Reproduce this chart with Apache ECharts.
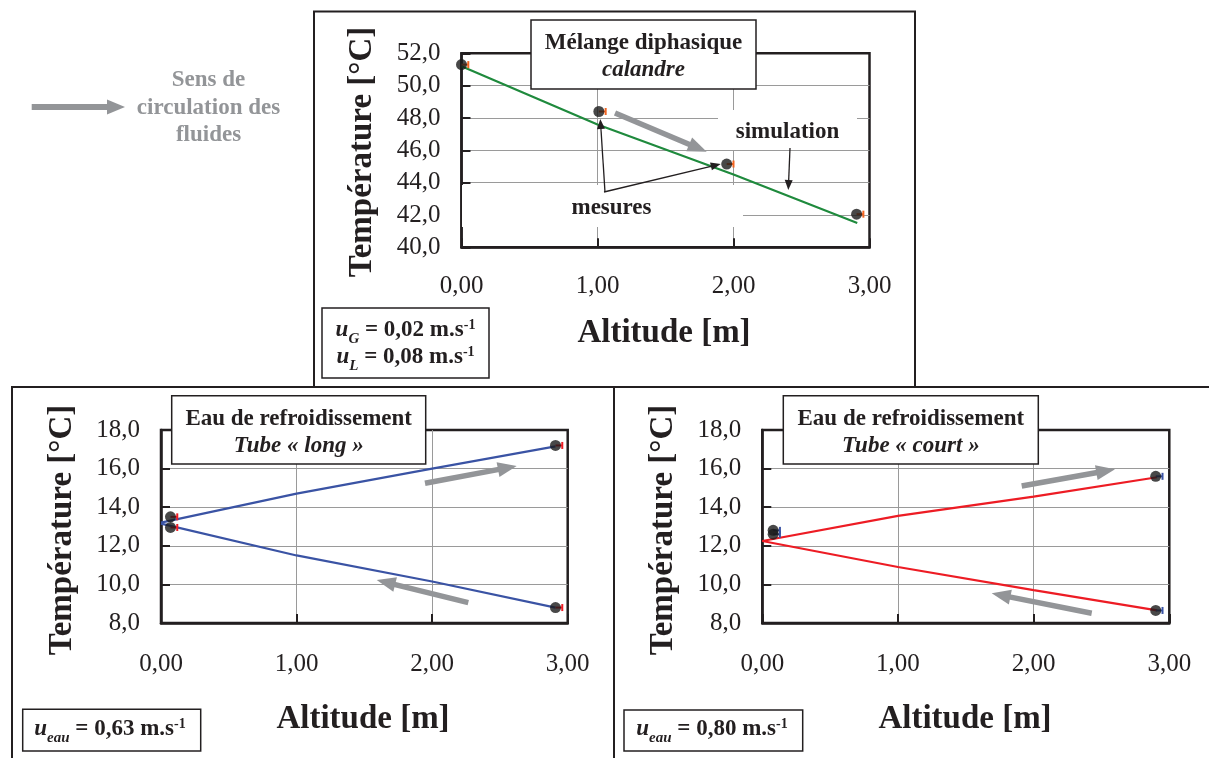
<!DOCTYPE html>
<html><head><meta charset="utf-8">
<script src="https://cdn.jsdelivr.net/npm/echarts@6/dist/echarts.min.js"></script>
<style>html,body{margin:0;padding:0;background:#fff}#c{width:1209px;height:758px}</style>
</head><body><div id="c"></div>
<script>
// ---------- DATA ----------
const xTickValues = [0, 1, 2, 3];
// Mélange diphasique (calandre)
const measX_top = [0.00, 1.01, 1.95, 2.905];
const meas_top = [51.3, 48.4, 45.15, 42.05];
const simX = [0, 1, 2, 2.91];
const sim_top = [51.2, 47.6, 44.5, 41.5];
// Eau de refroidissement, tube « long »
const measX_long = [0.07, 2.91];
const measUp_long = [13.5, 17.2];
const measDown_long = [12.95, 8.8];
const simUp_long = [13.2, 14.7, 16.0, 17.15];
const simDown_long = [13.15, 11.5, 10.15, 8.8];
// Eau de refroidissement, tube « court »
const measX_court = [0.08, 2.9];
const measUp_court = [12.8, 15.6];
const measDown_court = [12.6, 8.65];
const simUp_court = [12.25, 13.55, 14.55, 15.55];
const simDown_court = [12.25, 10.9, 9.7, 8.65];
const xErr = 0.05;

// ---------- STYLE ----------
const FONT = "'Liberation Serif','Times New Roman',serif";
const INK = '#231f20';
const GRAY = '#939598';
const zip = (xs, ys) => xs.map((x, i) => [x, ys[i]]);

function xAxisCfg(gi, margin) {
  return {
    type: 'value', gridIndex: gi, min: 0, max: 3, interval: 1,
    axisLine: {show: true, onZero: false, lineStyle: {color: INK, width: 2.5}},
    axisTick: {show: true, inside: true, length: 9, lineStyle: {color: INK, width: 2}},
    splitLine: {show: true, showMinLine: false, showMaxLine: false, lineStyle: {color: '#9a9a9a', width: 1}},
    axisLabel: {formatter: v => v.toFixed(2).replace('.', ','), fontFamily: FONT, fontSize: 25, color: INK, margin: margin}
  };
}
function yAxisCfg(gi, min, max) {
  return {
    type: 'value', gridIndex: gi, min: min, max: max, interval: 2,
    axisLine: {show: true, onZero: false, lineStyle: {color: INK, width: 2.5}},
    axisTick: {show: true, inside: true, length: 9, lineStyle: {color: INK, width: 2}},
    splitLine: {show: true, showMinLine: false, showMaxLine: false, lineStyle: {color: '#9a9a9a', width: 1}},
    axisLabel: {formatter: v => v.toFixed(1).replace('.', ','), fontFamily: FONT, fontSize: 25, color: INK, margin: 21}
  };
}
function errItem(color) {
  return function (params, api) {
    const x = api.value(0), y = api.value(1);
    const a = api.coord([x, y]), b = api.coord([x + xErr, y]);
    const h = 3.5, st = {stroke: color, lineWidth: 2};
    return {type: 'group', children: [
      {type: 'line', shape: {x1: a[0], y1: a[1], x2: b[0], y2: b[1]}, style: st},
      {type: 'line', shape: {x1: b[0], y1: b[1] - h, x2: b[0], y2: b[1] + h}, style: st}
    ]};
  };
}
function simSeries(gi, ys, color) {
  return {type: 'line', xAxisIndex: gi, yAxisIndex: gi, data: zip(simX, ys), showSymbol: false,
    lineStyle: {color: color, width: 2.2}, z: 4, silent: true};
}
function measSeries(gi, xs, ys) {
  return {type: 'scatter', xAxisIndex: gi, yAxisIndex: gi, data: zip(xs, ys), symbol: 'circle',
    symbolSize: 11, itemStyle: {color: '#1a1a1a'}, z: 6, silent: true};
}
function errSeries(gi, xs, ys, color) {
  return {type: 'custom', xAxisIndex: gi, yAxisIndex: gi, data: zip(xs, ys), renderItem: errItem(color), z: 5, silent: true};
}

// ---------- GRAPHIC HELPERS ----------
function arrow(x1, y1, x2, y2, color, w, hl, hw, z) {
  const ang = Math.atan2(y2 - y1, x2 - x1);
  const bx = x2 - hl * Math.cos(ang), by = y2 - hl * Math.sin(ang);
  const px = -Math.sin(ang) * hw / 2, py = Math.cos(ang) * hw / 2;
  return [
    {type: 'line', z: z, shape: {x1: x1, y1: y1, x2: bx + Math.cos(ang), y2: by + Math.sin(ang)}, style: {stroke: color, lineWidth: w}},
    {type: 'polygon', z: z, shape: {points: [[x2, y2], [bx + px, by + py], [bx - px, by - py]]}, style: {fill: color}}
  ];
}
function txt(x, y, s, opt) {
  opt = opt || {};
  return {type: 'text', x: x, y: y, rotation: opt.rot || 0, z: opt.z || 120,
    style: {text: s, fontFamily: FONT, fontSize: opt.size || 23, fontWeight: opt.weight || 'bold',
      fontStyle: opt.italic ? 'italic' : 'normal', fill: opt.color || INK, align: 'center', verticalAlign: 'middle'}};
}
function rect(x, y, w, h, stroke, z) {
  return {type: 'rect', z: z || 110, shape: {x: x, y: y, width: w, height: h},
    style: {fill: '#fff', stroke: stroke ? INK : null, lineWidth: stroke ? 1.5 : 0}};
}
function hline(x1, y1, x2, y2, w) {
  return {type: 'line', z: 130, shape: {x1: x1, y1: y1, x2: x2, y2: y2}, style: {stroke: INK, lineWidth: w || 2}};
}
const uRich = {
  u: {fontFamily: FONT, fontSize: 23, fontWeight: 'bold', fontStyle: 'italic', fill: INK, lineHeight: 27},
  s: {fontFamily: FONT, fontSize: 15, fontWeight: 'bold', fontStyle: 'italic', fill: INK, lineHeight: 27, padding: [18, 0, 0, 0]},
  t: {fontFamily: FONT, fontSize: 23, fontWeight: 'bold', fill: INK, lineHeight: 27},
  p: {fontFamily: FONT, fontSize: 14, fontWeight: 'bold', fill: INK, lineHeight: 27, padding: [0, 0, 10, 0]}
};
function richTxt(x, y, s) {
  return {type: 'text', x: x, y: y, z: 120, style: {text: s, rich: uRich, align: 'center', verticalAlign: 'middle'}};
}

const graphics = [].concat(
  // panel frames
  [{type: 'rect', z: 130, shape: {x: 314, y: 11.5, width: 601, height: 375.5}, style: {fill: null, stroke: INK, lineWidth: 2}}],
  [hline(11, 387, 1209, 387), hline(12, 387, 12, 758), hline(614, 387, 614, 758)],
  // legend of flow direction
  arrow(31.7, 107, 125, 107, GRAY, 6, 18, 15, 120),
  [txt(208.5, 80, 'Sens de', {color: GRAY}),
   txt(208.5, 108, 'circulation des', {color: GRAY}),
   txt(208.5, 135, 'fluides', {color: GRAY})],
  // top panel
  [rect(531, 20, 225, 69, true),
   txt(643.5, 43, 'Mélange diphasique'),
   txt(643.5, 70, 'calandre', {italic: true}),
   rect(462, 185, 281, 42, false, 100),
   rect(718, 110, 139, 40, false, 100),
   txt(611.5, 208, 'mesures'),
   txt(787.5, 132, 'simulation'),
   rect(322, 308, 167, 70, true),
   richTxt(405.5, 344, '{u|u}{s|G}{t| = 0,02 m.s}{p|-1}\n{u|u}{s|L}{t| = 0,08 m.s}{p|-1}'),
   txt(362, 152, 'Température [°C]', {size: 33, rot: Math.PI / 2}),
   txt(664, 333, 'Altitude [m]', {size: 33})],
  arrow(605, 192, 600.3, 119, INK, 1.3, 10, 8, 120),
  arrow(604, 192, 720.7, 164, INK, 1.3, 10, 8, 120),
  arrow(790, 148, 788.3, 190, INK, 1.3, 10, 8, 120),
  arrow(615, 113, 706.7, 151.7, GRAY, 5.5, 19, 15, 115),
  // bottom-left panel
  [rect(171.7, 395.7, 254, 68.3, true),
   txt(298.7, 419, 'Eau de refroidissement'),
   txt(298.7, 446, 'Tube « long »', {italic: true}),
   rect(22.7, 709.3, 178, 41.7, true),
   richTxt(110, 729, '{u|u}{s|eau}{t| = 0,63 m.s}{p|-1}'),
   txt(62, 530, 'Température [°C]', {size: 33, rot: Math.PI / 2}),
   txt(363, 719, 'Altitude [m]', {size: 33})],
  arrow(425, 483.3, 516.7, 466, GRAY, 5.5, 19, 15, 115),
  arrow(468.3, 602.7, 376.7, 580, GRAY, 5.5, 19, 15, 115),
  // bottom-right panel
  [rect(783.3, 395.7, 255, 68.3, true),
   txt(910.8, 419, 'Eau de refroidissement'),
   txt(910.8, 446, 'Tube « court »', {italic: true}),
   rect(624, 710, 178.7, 41, true),
   richTxt(712, 729.5, '{u|u}{s|eau}{t| = 0,80 m.s}{p|-1}'),
   txt(663, 530, 'Température [°C]', {size: 33, rot: Math.PI / 2}),
   txt(965, 719, 'Altitude [m]', {size: 33})],
  arrow(1021.7, 486, 1115, 469.3, GRAY, 5.5, 19, 15, 115),
  arrow(1091.7, 613.3, 991.7, 593.3, GRAY, 5.5, 19, 15, 115)
);

const chart = echarts.init(document.getElementById('c'), null, {renderer: 'canvas'});
chart.setOption({
  animation: false,
  backgroundColor: '#fff',
  grid: [
    {left: 461.5, top: 53.3, width: 408, height: 194, show: true, borderColor: INK, borderWidth: 2.5, backgroundColor: 'transparent'},
    {left: 161, top: 430, width: 406.7, height: 193, show: true, borderColor: INK, borderWidth: 2.5, backgroundColor: 'transparent'},
    {left: 762.3, top: 430, width: 407, height: 193, show: true, borderColor: INK, borderWidth: 2.5, backgroundColor: 'transparent'}
  ],
  xAxis: [xAxisCfg(0, 27), xAxisCfg(1, 29), xAxisCfg(2, 29)],
  yAxis: [yAxisCfg(0, 40, 52), yAxisCfg(1, 8, 18), yAxisCfg(2, 8, 18)],
  series: [
    simSeries(0, sim_top, '#1f8a3d'),
    errSeries(0, measX_top, meas_top, '#f26522'),
    measSeries(0, measX_top, meas_top),
    simSeries(1, simUp_long, '#3a53a4'),
    simSeries(1, simDown_long, '#3a53a4'),
    errSeries(1, measX_long, measUp_long, '#ed1c24'),
    errSeries(1, measX_long, measDown_long, '#ed1c24'),
    measSeries(1, measX_long, measUp_long),
    measSeries(1, measX_long, measDown_long),
    simSeries(2, simUp_court, '#ed1c24'),
    simSeries(2, simDown_court, '#ed1c24'),
    errSeries(2, measX_court, measUp_court, '#3a53a4'),
    errSeries(2, measX_court, measDown_court, '#3a53a4'),
    measSeries(2, measX_court, measUp_court),
    measSeries(2, measX_court, measDown_court)
  ],
  graphic: {elements: graphics}
});
</script></body></html>
